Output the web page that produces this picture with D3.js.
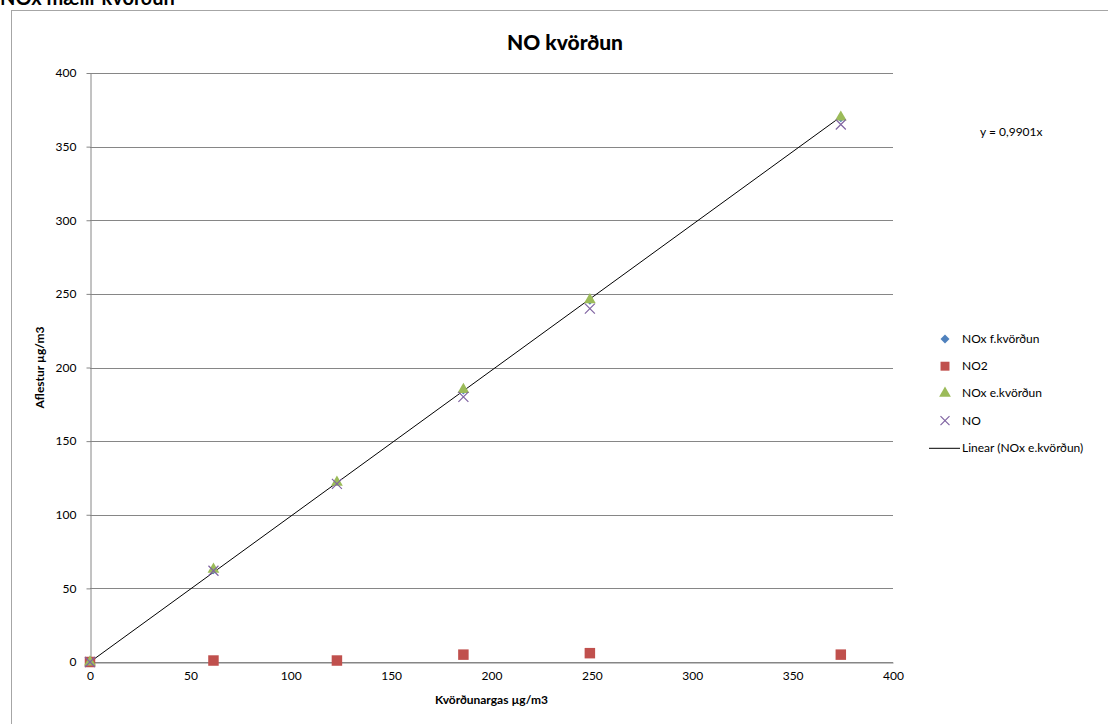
<!DOCTYPE html>
<html>
<head>
<meta charset="utf-8">
<script src="https://cdn.jsdelivr.net/npm/d3@7"></script>
<style>
  body { margin: 0; background: #fff; }
  text { font-family: Lato, "Open Sans", sans-serif; fill: #000; }
</style>
</head>
<body>
<script>
  var width = 1108;
  var height = 724;

  // gögn
  var xValues = [0, 61.5, 123, 186, 249, 374];
  var noxBefore = [0, 62, 122, 184, 245, 369];
  var no2 = [0, 1, 1, 5, 6, 5];
  var noxAfter = [0, 63, 122, 185, 246, 370];
  var no = [0, 62, 121, 180, 240, 365];
  var xTicks = [0, 50, 100, 150, 200, 250, 300, 350, 400];
  var yTicks = [0, 50, 100, 150, 200, 250, 300, 350, 400];
  var slope = 0.9901;
  var legendLabels = ["NOx f.kvörðun", "NO2", "NOx e.kvörðun", "NO", "Linear (NOx e.kvörðun)"];

  var svg = d3.select("body")
    .append("svg")
    .attr("width", width)
    .attr("height", height);

  //heading above chart, cut off at top as in the source
  svg.append("text")
    .attr("x", 0)
    .attr("y", 5)
    .style("font-size", "20px")
    .style("font-weight", "bold")
    .text("NOx mælir kvörðun");

  //chart border
  svg.append("rect")
    .attr("x", 11.5)
    .attr("y", 10.5)
    .attr("width", 1200)
    .attr("height", 800)
    .attr("fill", "none")
    .attr("stroke", "#a6a6a6")
    .attr("stroke-width", 1);

  var padding = { left: 90, right: 215, top: 73, bottom: 62 };

  var xScale = d3.scaleLinear()
    .domain([0, 400])
    .range([padding.left, width - padding.right]);

  var yScale = d3.scaleLinear()
    .domain([0, 400])
    .range([height - padding.bottom, padding.top]);

  //gridlines
  svg.selectAll(".grid")
    .data(yTicks)
    .enter()
    .append("line")
    .attr("class", "grid")
    .attr("x1", xScale(0))
    .attr("x2", xScale(400))
    .attr("y1", function (d) { return Math.round(yScale(d)) + 0.5; })
    .attr("y2", function (d) { return Math.round(yScale(d)) + 0.5; })
    .attr("stroke", "#868686")
    .attr("stroke-width", 1);

  var xAxis = d3.axisBottom(xScale)
    .tickValues(xTicks)
    .tickSizeInner(0)
    .tickSizeOuter(0)
    .tickPadding(9);

  var yAxis = d3.axisLeft(yScale)
    .tickValues(yTicks)
    .tickSizeInner(4)
    .tickSizeOuter(0)
    .tickPadding(10);

  var gx = svg.append("g")
    .attr("transform", "translate(0," + (Math.round(yScale(0)) + 0.5) + ")")
    .call(xAxis);

  var gy = svg.append("g")
    .attr("transform", "translate(" + (Math.round(xScale(0)) + 0.5) + ",0)")
    .call(yAxis);

  [gx, gy].forEach(function (g) {
    g.select(".domain").attr("stroke", "#868686");
    g.selectAll(".tick line").attr("stroke", "#868686");
    g.selectAll("text").style("font-size", "12px").style("font-family", "Lato, sans-serif");
  });

  //axis titles
  svg.append("text")
    .attr("x", xScale(200))
    .attr("y", 704)
    .attr("text-anchor", "middle")
    .style("font-size", "12px")
    .style("font-weight", "bold")
    .text("Kvörðunargas µg/m3");

  svg.append("text")
    .attr("transform", "translate(44," + yScale(200) + ") rotate(-90)")
    .attr("text-anchor", "middle")
    .style("font-size", "12px")
    .style("font-weight", "bold")
    .text("Aflestur µg/m3");

  //title
  svg.append("text")
    .attr("x", 565)
    .attr("y", 50)
    .attr("text-anchor", "middle")
    .style("font-size", "21px")
    .style("font-weight", "900")
    .text("NO kvörðun");

  //trendline
  var xMax = d3.max(xValues);
  svg.append("line")
    .attr("x1", xScale(0))
    .attr("y1", yScale(0))
    .attr("x2", xScale(xMax))
    .attr("y2", yScale(slope * xMax))
    .attr("stroke", "#000")
    .attr("stroke-width", 1);

  svg.append("text")
    .attr("x", 980)
    .attr("y", 136)
    .style("font-size", "12px")
    .text("y = " + String(slope).replace(".", ",") + "x");

  var square = d3.symbol().type(d3.symbolSquare).size(110);
  var triangle = d3.symbol().type(d3.symbolTriangle).size(60);

  function diamondPath(s) {
    return "M0," + (-s) + "L" + s + ",0L0," + s + "L" + (-s) + ",0Z";
  }

  function crossPath(s) {
    return "M" + (-s) + "," + (-s) + "L" + s + "," + s + "M" + (-s) + "," + s + "L" + s + "," + (-s);
  }

  //NOx f.kvörðun (liggur undir þríhyrningunum)
  svg.selectAll(".dia")
    .data(noxBefore)
    .enter()
    .append("path")
    .attr("class", "dia")
    .attr("d", diamondPath(3.5))
    .attr("fill", "#4f81bd")
    .attr("transform", function (d, i) { return "translate(" + xScale(xValues[i]) + "," + yScale(d) + ")"; });

  //NO2
  svg.selectAll(".sq")
    .data(no2)
    .enter()
    .append("path")
    .attr("class", "sq")
    .attr("d", square)
    .attr("fill", "#c0504d")
    .attr("transform", function (d, i) { return "translate(" + xScale(xValues[i]) + "," + yScale(d) + ")"; });

  //NOx e.kvörðun
  svg.selectAll(".tri")
    .data(noxAfter)
    .enter()
    .append("path")
    .attr("class", "tri")
    .attr("d", triangle)
    .attr("fill", "#9bbb59")
    .attr("transform", function (d, i) { return "translate(" + xScale(xValues[i]) + "," + yScale(d) + ")"; });

  //NO
  svg.selectAll(".cr")
    .data(no)
    .enter()
    .append("path")
    .attr("class", "cr")
    .attr("d", crossPath(5))
    .attr("stroke", "#8064a2")
    .attr("stroke-width", 1.2)
    .attr("fill", "none")
    .attr("transform", function (d, i) { return "translate(" + xScale(xValues[i]) + "," + yScale(d) + ")"; });

  //legend
  var legend = svg.append("g").attr("transform", "translate(0,339)");
  var rowH = 27.2;
  var lg = legend.selectAll(".lg")
    .data(legendLabels)
    .enter()
    .append("g")
    .attr("transform", function (d, i) { return "translate(0," + (i * rowH) + ")"; });

  lg.append("text")
    .attr("x", 962)
    .attr("y", 4)
    .style("font-size", "12px")
    .text(function (d) { return d; });

  lg.each(function (d, i) {
    var g = d3.select(this);
    if (i === 0) g.append("path").attr("d", diamondPath(4.5)).attr("fill", "#4f81bd").attr("transform", "translate(945,0)");
    if (i === 1) g.append("path").attr("d", d3.symbol().type(d3.symbolSquare).size(80)).attr("fill", "#c0504d").attr("transform", "translate(945,0)");
    if (i === 2) g.append("path").attr("d", triangle).attr("fill", "#9bbb59").attr("transform", "translate(945,0)");
    if (i === 3) g.append("path").attr("d", crossPath(4.5)).attr("stroke", "#8064a2").attr("stroke-width", 1.2).attr("fill", "none").attr("transform", "translate(945,0)");
    if (i === 4) g.append("line").attr("x1", 929).attr("x2", 960).attr("y1", 0.5).attr("y2", 0.5).attr("stroke", "#000");
  });
</script>
</body>
</html>
